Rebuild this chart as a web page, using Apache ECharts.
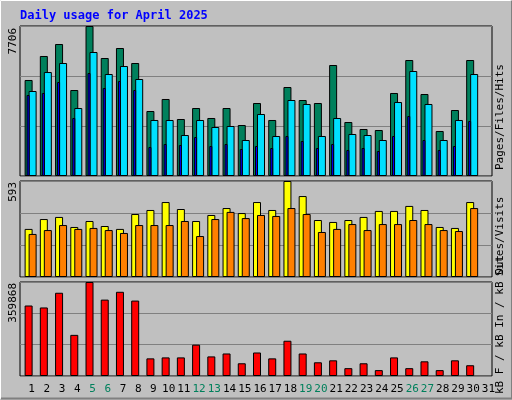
<!DOCTYPE html><html><head><meta charset="utf-8">
<script src="https://cdn.jsdelivr.net/npm/echarts@6/dist/echarts.min.js"></script>
<style>html,body{margin:0;padding:0;background:#c0c0c0}#c{width:512px;height:400px}</style></head><body><div id="c"></div>
<script>
const days=Array.from({length:31},(_,i)=>String(i+1));
const weekend=['5','6','12','13','19','20','26','27'];
const hits=[4932,6165,6781,4418,7706,6062,6575,5805,3339,3956,2928,3493,2980,3493,2620,3750,2877,4572,3904,3750,5702,2774,2414,2363,4264,5959,4212,2312,3390,5959,null];
const files=[4366,5342,5805,3493,6370,5240,5651,4983,2877,2877,2106,2877,2517,2569,1849,3185,2055,3904,3699,2055,2980,2158,2106,1849,3801,5394,3699,1849,2877,5240,null];
const pages=[4161,4264,4829,2980,5291,4521,4880,4418,1490,1644,1592,2003,1541,1644,1387,1541,1438,2055,1798,1438,1644,1336,1438,1284,2055,3082,1849,1336,1541,2825,null];
const visits=[297,358,371,309,346,315,297,389,414,463,420,346,383,426,395,463,414,593,500,352,340,352,371,408,408,439,414,309,303,463,null];
const sites=[266,290,321,297,303,290,272,321,321,321,346,253,358,402,364,383,377,426,389,278,297,327,290,327,327,352,327,290,284,426,null];
const kbF=[269900,262400,318700,157500,359868,292400,322400,288700,67500,71200,71200,120000,75000,86200,48700,90000,67500,135000,86200,52500,60000,30000,48700,22500,71200,30000,56200,22500,60000,41200,null];
const maxHits=7706,maxVisits=593,maxKB=359868;
const W=472;
const panels=[{top:26,h:150,max:maxHits},{top:181,h:96,max:maxVisits},{top:282,h:94,max:maxKB}];
const grids=[],xA=[],yA=[],series=[];
function addGrid(p,off,main){
  const gi=grids.length;
  grids.push({left:20+off,top:panels[p].top,width:W,height:panels[p].h,show:main,borderColor:'#000',borderWidth:1,backgroundColor:'transparent'});
  xA.push({type:'category',gridIndex:gi,data:days,show:false,boundaryGap:true});
  yA.push({type:'value',gridIndex:gi,min:0,max:panels[p].max,interval:panels[p].max/3,show:main,axisLabel:{show:false},axisLine:{show:false},axisTick:{show:false},splitLine:{show:main,lineStyle:{color:'#808080',width:1}}});
  return gi;
}
function bar(gi,data,color,w,z){series.push({type:'bar',xAxisIndex:gi,yAxisIndex:gi,data:data,barWidth:w,z:z,itemStyle:{color:color,borderColor:'#000',borderWidth:1},animation:false,silent:true});}
addGrid(0,0,true);
bar(addGrid(0,1,false),hits,'#00805c',8,2);
bar(addGrid(0,5,false),files,'#00e0ff',8,3);
bar(addGrid(0,0.5,false),pages,'#0000ff',3,4);
addGrid(1,0,true);
bar(addGrid(1,1,false),visits,'#ffff00',8,2);
bar(addGrid(1,5,false),sites,'#ff8000',8,3);
addGrid(2,0,true);
bar(addGrid(2,1,false),kbF,'#ff0000',8,2);
// day labels axis
const lg=grids.length;
grids.push({left:20+4,top:panels[2].top,width:W,height:panels[2].h,show:false});
xA.push({type:'category',gridIndex:lg,data:days,position:'bottom',axisLine:{show:false},axisTick:{show:false},
 axisLabel:{interval:0,margin:8,fontFamily:'DejaVu Sans Mono',fontSize:11,formatter:v=>weekend.includes(v)?'{w|'+v+'}':'{n|'+v+'}',rich:{w:{color:'#00805c',fontFamily:'DejaVu Sans Mono',fontSize:11},n:{color:'#000',fontFamily:'DejaVu Sans Mono',fontSize:11}}}});
yA.push({type:'value',gridIndex:lg,show:false});
const mono='DejaVu Sans Mono';
function vtext(x,y,rich,text,align){return {type:'text',x:x,y:y,rotation:Math.PI/2,style:{text:text,rich:rich,align:align,verticalAlign:'middle',font:'11px '+mono,fill:'#000'}};}
const rr=c=>({color:c,fontFamily:mono,fontSize:11});
const chart=echarts.init(document.getElementById('c'),null,{renderer:'canvas'});
chart.setOption({animation:false,backgroundColor:'#c0c0c0',grid:grids,xAxis:xA,yAxis:yA,series:series,
graphic:[
 {type:'rect',shape:{x:0.5,y:0.5,width:510,height:398},style:{fill:'none',stroke:'#fff',lineWidth:1}},
 {type:'polyline',shape:{points:[[1,398.5],[511.5,398.5],[511.5,1]]},style:{stroke:'#808080',lineWidth:2,fill:'none'}},
 {type:'text',x:20,y:16,style:{text:'Daily usage for April 2025',font:'bold 12px '+mono,fill:'#0000ff',verticalAlign:'middle'}},
 vtext(13,28,{},'7706','right'),
 vtext(13,182,{},'593','right'),
 vtext(13,283,{},'359868','right'),
 vtext(500,170,{a:rr('#00e0ff'),b:rr('#0000ff'),c:rr('#00805c'),k:rr('#000')},'{a|Pages}{k|/}{b|Files}{k|/}{c|Hits}','left'),
 vtext(500,276,{a:rr('#ff8000'),b:rr('#ffff00'),k:rr('#000')},'{a|Sites}{k|/}{b|Visits}','left'),
 vtext(500,394,{a:rr('#ff0000'),b:rr('#0080ff'),c:rr('#00c000'),k:rr('#000')},'{a|kB F}{k| / }{b|kB In}{k| / }{c|kB Out}','left')
]});
</script></body></html>
